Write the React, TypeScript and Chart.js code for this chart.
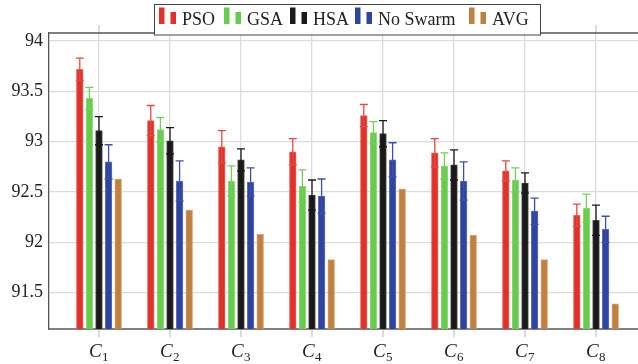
import React, { useEffect, useRef } from 'react';
import { Chart, registerables } from 'chart.js';

Chart.register(...registerables);

// ---- data ----
const categories = ['1', '2', '3', '4', '5', '6', '7', '8'];
const seriesNames = ['PSO', 'GSA', 'HSA', 'No Swarm', 'AVG'];
const psoValues = [93.72, 93.21, 92.95, 92.9, 93.26, 92.89, 92.71, 92.27];
const psoErrors = [0.11, 0.15, 0.16, 0.13, 0.11, 0.14, 0.1, 0.11];
const gsaValues = [93.43, 93.12, 92.61, 92.56, 93.09, 92.76, 92.62, 92.34];
const gsaErrors = [0.11, 0.12, 0.15, 0.16, 0.11, 0.13, 0.12, 0.14];
const hsaValues = [93.11, 93.01, 92.82, 92.47, 93.08, 92.77, 92.59, 92.22];
const hsaErrors = [0.14, 0.13, 0.11, 0.15, 0.13, 0.15, 0.1, 0.15];
const noSwarmValues = [92.8, 92.61, 92.6, 92.46, 92.82, 92.61, 92.31, 92.13];
const noSwarmErrors = [0.17, 0.2, 0.14, 0.17, 0.17, 0.19, 0.13, 0.13];
const avgValues = [92.63, 92.32, 92.08, 91.83, 92.53, 92.07, 91.83, 91.39];
const yTicks = [91.5, 92, 92.5, 93, 93.5, 94];

// ---- styles ----
const FONT = "'Liberation Serif', 'Times New Roman', serif";
const fills = ['#e0322a', '#66cc4d', '#1a1a1a', '#2f44a0', '#c0803f'];
const edges = ['#ea6a62', '#93dd80', '#4a4a4a', '#6373bd', '#d6a576'];
const errColors = ['#e44a40', '#70d058', '#1a1a1a', '#3b50aa'];
const GRID = '#dcdcdc';

const seriesValues = [psoValues, gsaValues, hsaValues, noSwarmValues, avgValues];
const seriesErrors: (number[] | null)[] = [psoErrors, gsaErrors, hsaErrors, noSwarmErrors, null];

const overlayPlugin = {
  id: 'overlay',
  afterDatasetsDraw(chart: any) {
    const ctx = chart.ctx;
    const y = chart.scales.y;
    ctx.save();
    seriesErrors.forEach((errs, di) => {
      if (!errs) return;
      const meta = chart.getDatasetMeta(di);
      ctx.strokeStyle = errColors[di];
      ctx.lineWidth = 1.3;
      meta.data.forEach((el: any, i: number) => {
        const v = seriesValues[di][i];
        const top = y.getPixelForValue(v + errs[i]);
        const bot = y.getPixelForValue(v - errs[i]);
        const x = el.x;
        ctx.beginPath();
        ctx.moveTo(x, top);
        ctx.lineTo(x, bot);
        ctx.moveTo(x - 4, top);
        ctx.lineTo(x + 4, top);
        ctx.moveTo(x - 4, bot);
        ctx.lineTo(x + 4, bot);
        ctx.stroke();
      });
    });
    ctx.restore();
  },
  afterDraw(chart: any) {
    const ctx = chart.ctx;
    const area = chart.chartArea;
    const xs = chart.scales.x;
    ctx.save();
    // outward x ticks top and bottom
    ctx.strokeStyle = '#c8c8c8';
    ctx.lineWidth = 1.3;
    categories.forEach((_, i) => {
      const px = xs.getPixelForValue(i + 1);
      ctx.beginPath();
      ctx.moveTo(px, area.top - 8);
      ctx.lineTo(px, area.top);
      ctx.moveTo(px, area.bottom + 1);
      ctx.lineTo(px, area.bottom + 8);
      ctx.stroke();
    });
    // top border
    ctx.strokeStyle = '#555';
    ctx.lineWidth = 1.3;
    ctx.beginPath();
    ctx.moveTo(area.left, area.top);
    ctx.lineTo(area.right, area.top);
    ctx.stroke();

    // category labels C_i
    ctx.fillStyle = '#222';
    ctx.textBaseline = 'alphabetic';
    categories.forEach((c, i) => {
      const px = xs.getPixelForValue(i + 1);
      ctx.font = `italic 19px ${FONT}`;
      const wC = ctx.measureText('C').width;
      ctx.font = `13px ${FONT}`;
      const wS = ctx.measureText(c).width;
      const start = px - (wC + wS) / 2 - 0.5;
      ctx.font = `italic 19px ${FONT}`;
      ctx.fillText('C', start, 357);
      ctx.font = `13px ${FONT}`;
      ctx.fillText(c, start + wC + 0.5, 361);
    });

    // legend
    const bx = 154.5, by = 4.5, bw = 386, bh = 30.5;
    ctx.fillStyle = '#fff';
    ctx.fillRect(bx, by, bw, bh);
    ctx.strokeStyle = '#444';
    ctx.lineWidth = 1;
    ctx.strokeRect(bx, by, bw, bh);
    const entryX = [159, 224, 290, 355, 469];
    seriesNames.forEach((name, i) => {
      const ex = entryX[i];
      ctx.fillStyle = fills[i];
      ctx.fillRect(ex, 7.5, 5.5, 16.5);
      ctx.fillRect(ex + 11.5, 12, 5.5, 12);
      ctx.fillStyle = '#222';
      ctx.font = `18px ${FONT}`;
      ctx.textBaseline = 'alphabetic';
      ctx.fillText(name, ex + 23, 24.5);
    });
    ctx.restore();
  },
};

export default function App() {
  const ref = useRef<HTMLCanvasElement>(null);
  useEffect(() => {
    if (!ref.current) return;
    const chart = new Chart(ref.current, {
      type: 'bar',
      data: {
        datasets: seriesNames.map((name, di) => ({
          label: name,
          data: seriesValues[di].map((v, i) => ({ x: i + 1, y: v })),
          backgroundColor: fills[di],
          borderColor: edges[di],
          borderWidth: 1,
          barThickness: 9.6,
          maxBarThickness: 6.7,
        })),
      },
      options: {
        animation: false,
        responsive: false,
        layout: { padding: { top: 33, right: 15, left: 0, bottom: 0 } },
        plugins: { legend: { display: false }, tooltip: { enabled: false } },
        scales: {
          x: {
            type: 'linear',
            offset: false,
            min: 0.296,
            max: 8.69,
            afterBuildTicks: (ax: any) => {
              ax.ticks = categories.map((_, i) => ({ value: i + 1 }));
            },
            afterFit: (ax: any) => {
              ax.height = 35;
            },
            ticks: { display: false },
            grid: { color: GRID, lineWidth: 1.3, drawTicks: false, offset: false },
            border: { color: '#808080', width: 2 },
          },
          y: {
            min: 91.14,
            max: 94.08,
            afterBuildTicks: (ax: any) => {
              ax.ticks = yTicks.map((v) => ({ value: v }));
            },
            afterFit: (ax: any) => {
              ax.width = 49;
            },
            ticks: {
              font: { family: FONT, size: 18 },
              color: '#222',
              padding: 6,
              callback: (v: any) => String(v),
            },
            grid: { color: GRID, lineWidth: 1.3, drawTicks: false },
            border: { color: '#555', width: 1.3 },
          },
        },
      } as any,
      plugins: [overlayPlugin],
    });
    return () => chart.destroy();
  }, []);
  return (
    <div
      style={{
        position: 'fixed',
        left: 0,
        top: 0,
        width: 638,
        height: 364,
        overflow: 'hidden',
        background: '#fff',
      }}
    >
      <canvas ref={ref} width={660} height={364} style={{ display: 'block', width: 660, height: 364 }} />
    </div>
  );
}
